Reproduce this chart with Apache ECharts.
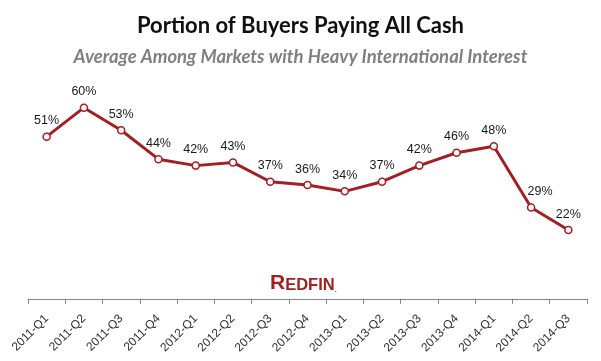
<!DOCTYPE html>
<html>
<head>
<meta charset="utf-8">
<script src="https://cdn.jsdelivr.net/npm/echarts@6/dist/echarts.min.js"></script>
<style>
html,body{margin:0;padding:0;background:#fff;}
#chart{width:601px;height:361px;}
</style>
</head>
<body>
<div id="chart"></div>
<script>
var categories = ['2011-Q1','2011-Q2','2011-Q3','2011-Q4','2012-Q1','2012-Q2','2012-Q3','2012-Q4','2013-Q1','2013-Q2','2013-Q3','2013-Q4','2014-Q1','2014-Q2','2014-Q3'];
var cashShare = [51,60,53,44,42,43,37,36,34,37,42,46,48,29,22];
var titleText = 'Portion of Buyers Paying All Cash';
var subtitleText = 'Average Among Markets with Heavy International Interest';

var chart = echarts.init(document.getElementById('chart'), null, {renderer:'canvas'});
var seriesData = cashShare.map(function(v, i){
  var d = {value: v};
  if (i === 13) d.label = {offset: [9, 0]};
  return d;
});
chart.setOption({
  animation:false,
  backgroundColor:'#fff',
  title:[{
    text:titleText,
    left:'center', top:10,
    textStyle:{fontFamily:'Lato', fontWeight:'bold', fontSize:22, color:'#111'}
  },{
    text:subtitleText,
    left:'center', top:43,
    textStyle:{fontFamily:'Lato', fontWeight:'bold', fontStyle:'italic', fontSize:18.5, color:'#808080'}
  }],
  graphic:[{
    type:'text',
    left:270, top:273,
    style:{
      text:'{a|R}{b|EDFIN}{c|.}',
      rich:{
        a:{fontFamily:'Liberation Sans', fontWeight:'bold', fontSize:21, fill:'#A41E22', verticalAlign:'bottom'},
        b:{fontFamily:'Liberation Sans', fontWeight:'bold', fontSize:16.5, fill:'#A41E22', verticalAlign:'bottom'},
        c:{fontFamily:'Liberation Sans', fontWeight:'bold', fontSize:7, fill:'#A41E22', verticalAlign:'bottom'}
      }
    }
  }],
  grid:{left:28, right:14, top:75.5, bottom:60.2},
  xAxis:{
    type:'category',
    data:categories,
    boundaryGap:true,
    offset:-2,
    axisLine:{lineStyle:{color:'#868686', width:1}},
    axisTick:{show:true, length:5, lineStyle:{color:'#868686'}},
    axisLabel:{rotate:45, margin:18, fontFamily:'Liberation Sans', fontSize:12, color:'#333', interval:0}
  },
  yAxis:{type:'value', min:0, max:70, show:false, splitLine:{show:false}},
  series:[{
    type:'line',
    data:seriesData,
    symbol:'circle',
    symbolSize:7,
    lineStyle:{color:'#A31F24', width:3},
    itemStyle:{color:'#fff', borderColor:'#A31F24', borderWidth:1.5},
    label:{show:true, position:'top', distance:5, formatter:'{c}%', fontFamily:'Liberation Sans', fontSize:12.5, color:'#1a1a1a'}
  }]
});
</script>
</body>
</html>
